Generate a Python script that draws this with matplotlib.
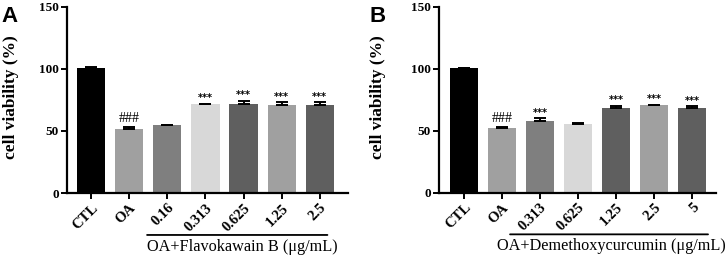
import numpy as np
import matplotlib
matplotlib.use("Agg")
import matplotlib.pyplot as plt

# panel A: Flavokawain B
labels_a = ["CTL", "OA", "0.16", "0.313", "0.625", "1.25", "2.5"]
means_a = [100.4, 51.6, 54.3, 71.5, 71.8, 70.5, 70.8]
errs_a = [0.9, 1.2, 0.4, 0.4, 2.2, 2.4, 2.2]
marks_a = ["", "###", "", "***", "***", "***", "***"]
colors_a = ["#000000", "#a0a0a0", "#7f7f7f", "#d8d8d8", "#5f5f5f", "#a0a0a0", "#5f5f5f"]
xlabel_a = "OA+Flavokawain B (\u03bcg/mL)"

# panel B: Demethoxycurcumin
labels_b = ["CTL", "OA", "0.313", "0.625", "1.25", "2.5", "5"]
means_b = [100.5, 51.8, 57.6, 55.3, 68.3, 70.4, 68.3]
errs_b = [0.3, 1.0, 2.2, 0.5, 1.6, 0.5, 1.1]
marks_b = ["", "###", "***", "", "***", "***", "***"]
colors_b = ["#000000", "#a0a0a0", "#7f7f7f", "#d8d8d8", "#5f5f5f", "#a0a0a0", "#5f5f5f"]
xlabel_b = "OA+Demethoxycurcumin (\u03bcg/mL)"

serif = "Liberation Serif"

fig = plt.figure(figsize=(7.26, 2.59), dpi=100)
ax_a = fig.add_axes([67/726, 1-193/259, (348-67)/726, (193-6.5)/259])
ax_b = fig.add_axes([439/726, 1-192.5/259, (716-439)/726, (192.5-6.5)/259])


def draw_panel(ax, labels, means, errs, marks, colors, xlabel, letter, xlim,
               bracket, text_x, lx):
    x = np.arange(len(labels))
    ax.bar(x, means, width=0.74, color=colors, edgecolor="none", zorder=2)
    ax.errorbar(x, means, yerr=[np.zeros(len(errs)), errs], fmt="none",
                ecolor="black", elinewidth=1.4, capsize=4.5, capthick=1.4, zorder=3)
    for xi, m, e, s in zip(x, means, errs, marks):
        if not s:
            continue
        if s.startswith("#"):
            ax.annotate(s, (xi, m + e), xytext=(0, 1.5), textcoords="offset points",
                        ha="center", va="bottom", fontsize=10, family=serif)
        else:
            ax.annotate(s, (xi, m + e), xytext=(0, 0.5), textcoords="offset points",
                        ha="center", va="bottom", fontsize=7, fontweight="bold",
                        family="DejaVu Sans")
    ax.set_ylim(0, 150)
    ax.set_yticks([0, 50, 100, 150])
    ax.set_xlim(*xlim)
    ax.set_xticks(x)
    ax.set_xticklabels(labels, rotation=45, ha="right", rotation_mode="anchor",
                       fontsize=10.5, fontweight="bold", family=serif)
    for t in ax.get_yticklabels():
        t.set_fontsize(9.5)
        t.set_fontweight("bold")
        t.set_family(serif)
    ax.tick_params(axis="both", direction="out", length=4, width=1.4, pad=2)
    for side in ["top", "right"]:
        ax.spines[side].set_visible(False)
    for side in ["left", "bottom"]:
        ax.spines[side].set_linewidth(1.6)
    ax.set_ylabel("cell viability (%)", fontsize=12.5, fontweight="bold", family=serif)
    ax.yaxis.set_label_coords(lx, 0.515)
    # bracket under treatment groups
    x0, x1 = bracket
    ax.annotate("", xy=(x0, -0.225), xytext=(x1, -0.225), xycoords=("data", "axes fraction"),
                textcoords=("data", "axes fraction"),
                arrowprops=dict(arrowstyle="-", lw=1.3, color="black", shrinkA=0, shrinkB=0),
                annotation_clip=False)
    ax.text(text_x, -0.245, xlabel, transform=ax.get_xaxis_transform(),
            ha="center", va="top", fontsize=11.7, family=serif)
    ax.text(-0.235, 1.0, letter, transform=ax.transAxes, fontsize=16,
            fontweight="bold", family="Liberation Sans", va="top", ha="left")


draw_panel(ax_a, labels_a, means_a, errs_a, marks_a, colors_a, xlabel_a, "A",
           (-0.63, 6.74), (1.47, 6.2), 3.97, -0.17)
draw_panel(ax_b, labels_b, means_b, errs_b, marks_b, colors_b, xlabel_b, "B",
           (-0.66, 6.63), (1.21, 6.42), 3.87, -0.19)
ax_b.texts[-1].set_position((-0.25, 1.0))

fig.savefig("out.png", dpi=100)
